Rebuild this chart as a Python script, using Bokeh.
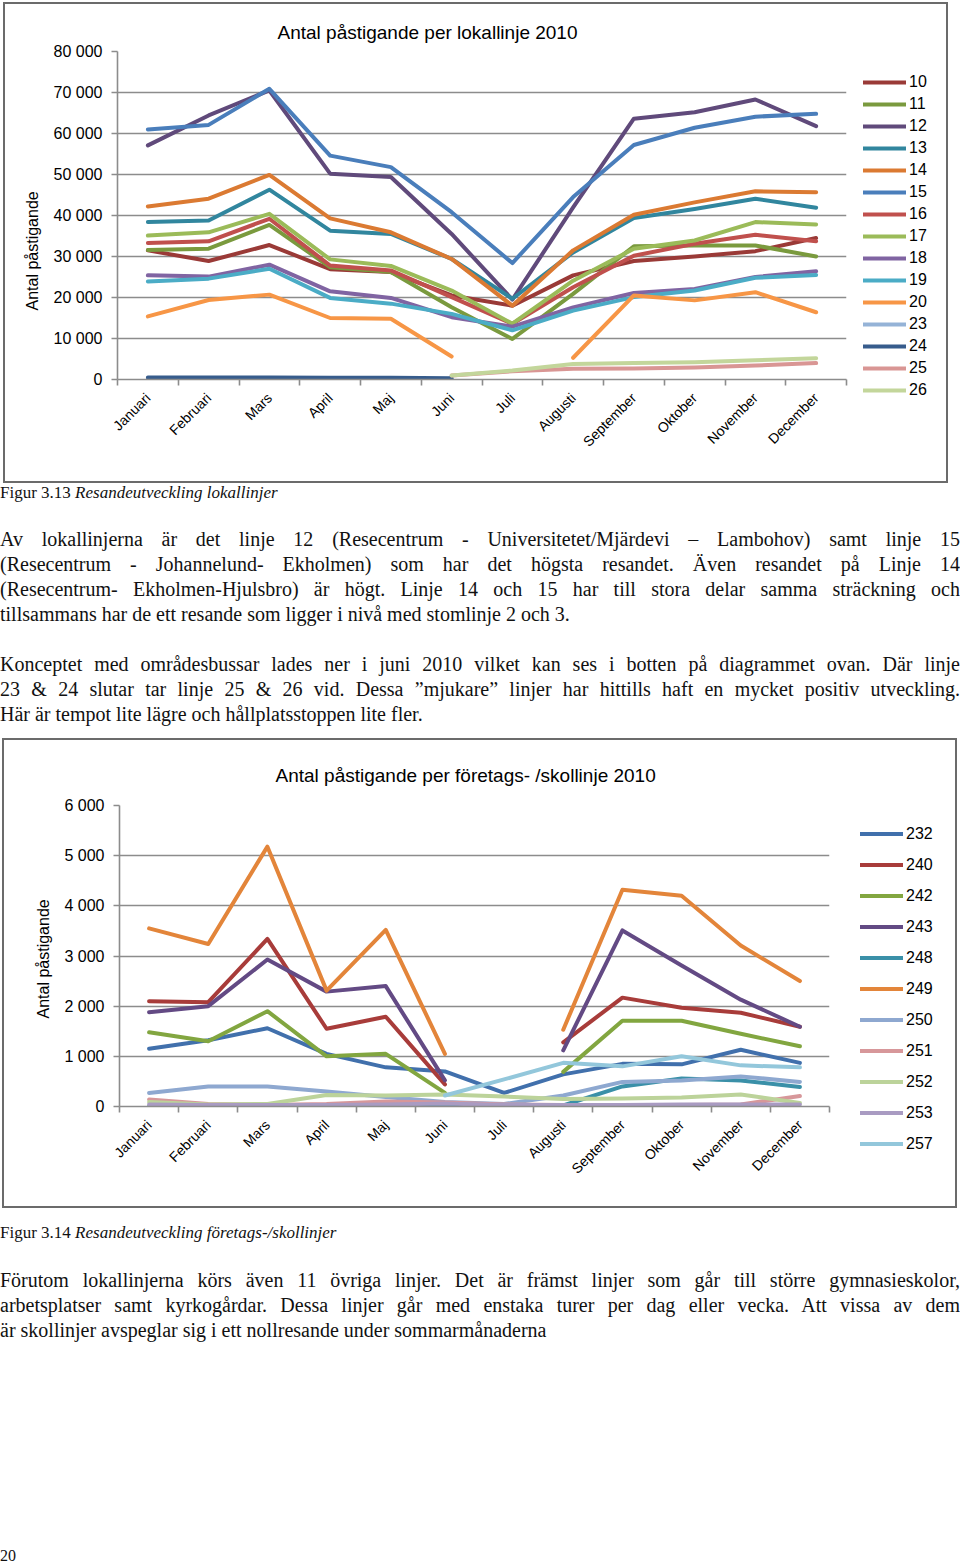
import math
import numpy as np
from bokeh.plotting import figure
from bokeh.models import (Range1d, FixedTicker, CustomJSTickFormatter, Legend, LegendItem,
                          Title, Div, ColumnDataSource)
from bokeh.layouts import column, row
from bokeh.embed import file_html
from bokeh.resources import INLINE

# ---------------- data ----------------
months = ["Januari", "Februari", "Mars", "April", "Maj", "Juni", "Juli",
          "Augusti", "September", "Oktober", "November", "December"]

# Chart 1: Antal påstigande per lokallinje 2010
l10 = [31500, 28900, 32800, 26900, 26200, 20500, 18000, 25400, 28900, 30000, 31300, 34500]
l11 = [31600, 31900, 37700, 27400, 26200, 17600, 9900, 20900, 32500, 32700, 32700, 30000]
l12 = [57100, 64400, 70500, 50200, 49400, 35500, 19500, 42000, 63600, 65200, 68300, 61800]
l13 = [38400, 38800, 46300, 36300, 35500, 29400, 19700, 31000, 39400, 41600, 44100, 41900]
l14 = [42200, 44100, 49900, 39300, 35900, 29400, 18000, 31500, 40200, 43200, 45900, 45700]
l15 = [61000, 62100, 70900, 54600, 51800, 40800, 28400, 44500, 57200, 61400, 64100, 64800]
l16 = [33300, 33700, 39200, 27800, 26600, 20100, 13600, 22500, 30200, 33100, 35300, 33700]
l17 = [35100, 35900, 40400, 29300, 27700, 21700, 13600, 24100, 31900, 33900, 38400, 37800]
l18 = [25400, 25100, 28000, 21500, 19900, 15200, 12900, 17600, 21100, 22100, 25000, 26400]
l19 = [23900, 24600, 27000, 19900, 18500, 16000, 12000, 16800, 20100, 21700, 24800, 25500]
l20 = [15400, 19400, 20700, 15000, 14800, 5600, None, 5300, 20500, 19300, 21300, 16400]
l23 = [300, 300, 300, 200, 200, 100, None, None, None, None, None, None]
l24 = [500, 500, 500, 400, 400, 300, None, None, None, None, None, None]
l25 = [None, None, None, None, None, 1000, 2000, 2600, 2700, 2900, 3400, 4000]
l26 = [None, None, None, None, None, 1000, 2200, 3800, 4000, 4200, 4700, 5200]
names1 = ["10", "11", "12", "13", "14", "15", "16", "17", "18", "19", "20", "23", "24", "25", "26"]
values1 = [l10, l11, l12, l13, l14, l15, l16, l17, l18, l19, l20, l23, l24, l25, l26]
yticks1 = [0, 10000, 20000, 30000, 40000, 50000, 60000, 70000, 80000]

# Chart 2: Antal påstigande per företags- /skollinje 2010
c232 = [1150, 1320, 1560, 1050, 780, 700, 270, 640, 850, 840, 1130, 870]
c240 = [2100, 2080, 3340, 1550, 1790, 440, None, 1280, 2170, 1970, 1870, 1590]
c242 = [1480, 1300, 1900, 1000, 1050, 270, None, 690, 1710, 1710, 1450, 1200]
c243 = [1880, 2000, 2930, 2290, 2400, 520, None, 1120, 3510, 2810, 2130, 1590]
c248 = [0, 0, 0, 0, 0, 0, 0, 20, 400, 560, 520, 390]
c249 = [3550, 3240, 5180, 2310, 3520, 1050, None, 1530, 4320, 4200, 3210, 2500]
c250 = [270, 400, 400, 300, 190, 90, 50, 220, 490, 520, 600, 490]
c251 = [140, 50, 30, 50, 100, 80, 40, 30, 30, 30, 40, 210]
c252 = [90, 40, 50, 230, 220, 240, 200, 150, 160, 180, 240, 70]
c253 = [40, 30, 30, 30, 40, 60, 30, 30, 30, 40, 40, 40]
c257 = [None, None, None, None, None, 220, 540, 870, 800, 1000, 820, 780]
names2 = ["232", "240", "242", "243", "248", "249", "250", "251", "252", "253", "257"]
values2 = [c232, c240, c242, c243, c248, c249, c250, c251, c252, c253, c257]
yticks2 = [0, 1000, 2000, 3000, 4000, 5000, 6000]

# ---------------- styles ----------------
colors1 = ["#9A3A37", "#7A9A3E", "#604A7B", "#31869E", "#DB7A32", "#4A7EBB", "#C0504D",
           "#9BBB59", "#8064A2", "#4BACC6", "#F79646", "#95B3D7", "#375C8C", "#D99694", "#C3D69B"]
colors2 = ["#4170AC", "#A83C3A", "#82A640", "#634A84", "#3A90A8", "#E3853A", "#8EA8D0",
           "#D7979A", "#BCD39A", "#A99BC2", "#93C7DB"]
SANS = "Liberation Sans"
GRID = "#8C8C8C"


def fmt(v):
    return f"{v:,}".replace(",", " ")


def make_chart(title, names, values, colors, yticks, w, h, mb, title_off, title_standoff,
               ylab_off, leg_w, leg_loc, leg_h, margin):
    x = [i + 0.5 for i in range(len(months))]
    p = figure(width=w, height=h, x_range=Range1d(0, 12), y_range=Range1d(yticks[0], yticks[-1]),
               output_backend="svg", toolbar_location=None,
               min_border_left=mb[0], min_border_right=mb[1], min_border_top=mb[2],
               min_border_bottom=mb[3], outline_line_color=None,
               border_fill_color=None, background_fill_color="white")
    p.title.text = title
    p.title.align = "left"
    p.title.offset = title_off
    p.title.standoff = title_standoff
    p.title.text_font = SANS
    p.title.text_font_size = "19px"
    p.title.text_font_style = "normal"
    p.title.text_color = "#000000"
    p.add_layout(Title(text="Antal påstigande", align="left", offset=ylab_off,
                       text_font=SANS, text_font_size="16px", text_font_style="normal",
                       text_color="#000000", standoff=20), "left")

    p.xgrid.visible = False
    p.ygrid.grid_line_color = GRID
    p.ygrid.grid_line_width = 1.6
    p.ygrid.ticker = FixedTicker(ticks=yticks)

    xa = p.xaxis[0]
    xa.ticker = FixedTicker(ticks=x, minor_ticks=list(range(13)))
    xa.formatter = CustomJSTickFormatter(args=dict(labels=months),
                                         code="return labels[Math.round(tick - 0.5)] || ''")
    xa.major_tick_out = 0
    xa.major_tick_in = 0
    xa.minor_tick_out = 6
    xa.minor_tick_in = 0
    xa.minor_tick_line_color = GRID
    xa.minor_tick_line_width = 1.6
    xa.axis_line_color = GRID
    xa.axis_line_width = 1.6
    xa.major_label_orientation = math.pi / 4
    xa.major_label_text_font = SANS
    xa.major_label_text_font_size = "14px"
    xa.major_label_text_color = "#000000"
    xa.major_label_standoff = 10

    ya = p.yaxis[0]
    ya.ticker = FixedTicker(ticks=yticks)
    ya.major_label_overrides = {t: fmt(t) for t in yticks}
    ya.major_tick_out = 6
    ya.major_tick_in = 0
    ya.minor_tick_out = 0
    ya.minor_tick_in = 0
    ya.major_tick_line_color = GRID
    ya.major_tick_line_width = 1.6
    ya.axis_line_color = GRID
    ya.axis_line_width = 1.6
    ya.major_label_text_font = SANS
    ya.major_label_text_font_size = "16px"
    ya.major_label_text_color = "#000000"
    ya.major_label_standoff = 9

    # legend strip: its own borderless plot whose whole area is the frame.
    # Its x range lies beyond the months, so the key renderers stay off-screen.
    pl = figure(width=leg_w, height=h, x_range=Range1d(100, 101), y_range=Range1d(yticks[0], yticks[-1]),
                output_backend="svg", toolbar_location=None, title=None,
                x_axis_type=None, y_axis_type=None, min_border=0,
                outline_line_color=None, border_fill_color=None, background_fill_color=None)

    items = []
    for name, vals, col in zip(names, values, colors):
        src = ColumnDataSource(dict(x=x, y=np.array(vals, dtype=float)))
        p.line("x", "y", source=src, line_color=col, line_width=4,
               line_join="round", line_cap="round")
        key = pl.line("x", "y", source=src, line_color=col, line_width=4, line_cap="round")
        items.append(LegendItem(label=name, renderers=[key]))
    leg = Legend(items=items, location=leg_loc, glyph_width=43, glyph_height=leg_h,
                 label_height=leg_h, label_standoff=3, spacing=0, padding=0, margin=0,
                 border_line_color=None, background_fill_alpha=0,
                 label_text_font=SANS, label_text_font_size="16px", label_text_color="#000000")
    pl.add_layout(leg)
    return row(column(p), column(pl), spacing=0, margin=margin,
               styles={"box-shadow": "inset 0 0 0 2px #6b6b6b"})


# chart 1 box 945x481: plot 845 wide (frame right edge at 843), legend strip 100 wide
c1 = make_chart("Antal påstigande per lokallinje 2010", names1, values1, colors1, yticks1,
                845, 481, (114, 2, 49, 104), 160, 18, 69, 100, (15, 82), 22, (2, 0, 0, 3))
# chart 2 box 955x470: plot 829 wide (frame right edge at 827), legend strip 126 wide
c2 = make_chart("Antal påstigande per företags- /skollinje 2010", names2, values2, colors2, yticks2,
                829, 470, (117, 2, 67, 102), 156, 40, 88, 126, (29, 49), 31, (0, 0, 0, 2))

SERIF = "'Liberation Serif', serif"


def line(text, top, justify=True, size=20, lh=25):
    j = "text-align:justify;text-align-last:justify;" if justify else ""
    return (f'<div style="position:absolute;left:0;top:{top}px;width:960px;font-size:{size}px;'
            f'line-height:{lh}px;{j}">{text}</div>')


html1 = (f'<div style="position:relative;width:960px;height:255px;font-family:{SERIF};color:#111;">'
         + line('Figur 3.13 <i>Resandeutveckling lokallinjer</i>', 0, False, 17, 20)
         + line("Av lokallinjerna är det linje 12 (Resecentrum - Universitetet/Mjärdevi – Lambohov) samt linje 15", 44)
         + line("(Resecentrum - Johannelund- Ekholmen) som har det högsta resandet. Även resandet på Linje 14", 69)
         + line("(Resecentrum- Ekholmen-Hjulsbro) är högt. Linje 14 och 15 har till stora delar samma sträckning och", 94)
         + line("tillsammans har de ett resande som ligger i nivå med stomlinje 2 och 3.", 119, False)
         + line("Konceptet med områdesbussar lades ner i juni 2010 vilket kan ses i botten på diagrammet ovan. Där linje", 169)
         + line("23 &amp; 24 slutar tar linje 25 &amp; 26 vid. Dessa ”mjukare” linjer har hittills haft en mycket positiv utveckling.", 194)
         + line("Här är tempot lite lägre och hållplatsstoppen lite fler.", 219, False)
         + '</div>')

html2 = (f'<div style="position:relative;width:960px;height:356px;font-family:{SERIF};color:#111;">'
         + line('Figur 3.14 <i>Resandeutveckling företags-/skollinjer</i>', 15, False, 17, 20)
         + line("Förutom lokallinjerna körs även 11 övriga linjer. Det är främst linjer som går till större gymnasieskolor,", 60)
         + line("arbetsplatser samt kyrkogårdar. Dessa linjer går med enstaka turer per dag eller vecka. Att vissa av dem", 85)
         + line("är skollinjer avspeglar sig i ett nollresande under sommarmånaderna", 110, False)
         + line("20", 340, False, 16, 16)
         + '</div>')

d1 = Div(text=html1, width=960, height=255, margin=0)
d2 = Div(text=html2, width=960, height=356, margin=0)

layout = column(c1, d1, c2, d2, spacing=0)

with open("out.html", "w") as f:
    f.write(file_html(layout, INLINE))
